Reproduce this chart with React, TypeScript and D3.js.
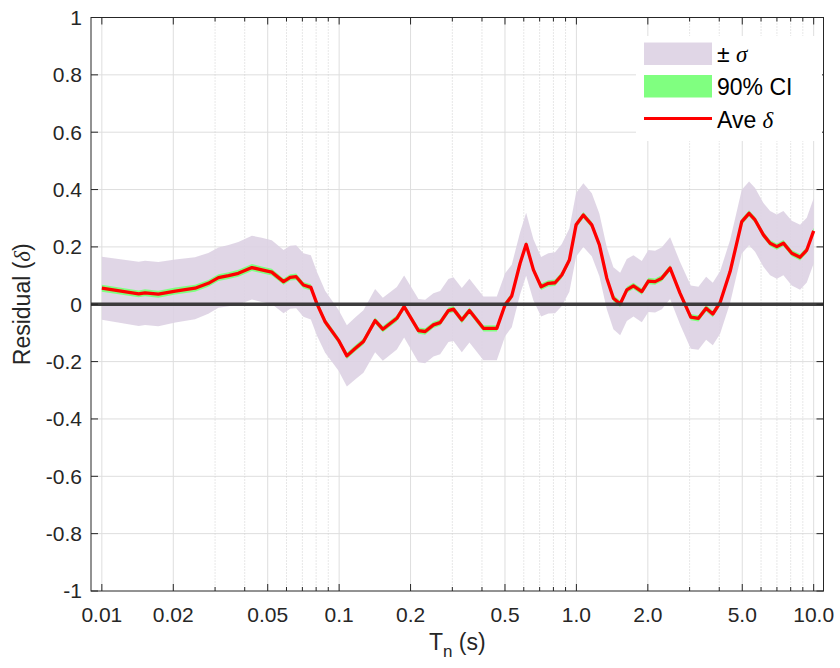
import React from 'react';
import * as d3 from 'd3';

// periods (s) and mean residual
const periods = [
  0.01, 0.0143, 0.0152, 0.0173, 0.0204, 0.0247, 0.0281, 0.031, 0.0342, 0.0376,
  0.0429, 0.0472, 0.052, 0.0583, 0.0622, 0.0659, 0.0707, 0.076, 0.0805, 0.0873,
  0.0993, 0.1078, 0.1168, 0.1266, 0.1418, 0.1528, 0.1751, 0.1879, 0.2159, 0.2304,
  0.2497, 0.2665, 0.2888, 0.3032, 0.3289, 0.3541, 0.4056, 0.4619, 0.5006, 0.534,
  0.579, 0.614, 0.659, 0.71, 0.762, 0.813, 0.868, 0.934, 0.997, 1.07,
  1.161, 1.25, 1.343, 1.432, 1.529, 1.631, 1.739, 1.886, 2.011, 2.146,
  2.291, 2.483, 2.735, 3.034, 3.268, 3.522, 3.757, 4.033, 4.444, 4.666,
  4.977, 5.342, 5.662, 6.14, 6.552, 6.992, 7.454, 8.085, 8.764, 9.352, 10.0,
];

const meanDelta = [
  0.056, 0.036, 0.040, 0.035, 0.046, 0.056, 0.073, 0.093, 0.100, 0.108,
  0.128, 0.120, 0.112, 0.079, 0.094, 0.096, 0.067, 0.059, 0.003, -0.061,
  -0.125, -0.180, -0.154, -0.130, -0.057, -0.087, -0.049, -0.008, -0.092, -0.095,
  -0.072, -0.064, -0.022, -0.017, -0.055, -0.022, -0.084, -0.084, -0.002, 0.029,
  0.143, 0.209, 0.120, 0.061, 0.073, 0.075, 0.102, 0.154, 0.277, 0.311,
  0.277, 0.207, 0.091, 0.021, 0.001, 0.050, 0.064, 0.044, 0.081, 0.079,
  0.091, 0.126, 0.038, -0.045, -0.049, -0.014, -0.034, 0.006, 0.114, 0.189,
  0.288, 0.317, 0.294, 0.242, 0.213, 0.201, 0.213, 0.178, 0.164, 0.189, 0.256,
];

// standard deviation (half width of the purple band)
const sigma = [
  0.110, 0.112, 0.112, 0.112, 0.110, 0.108, 0.106, 0.105, 0.107, 0.109,
  0.111, 0.112, 0.111, 0.110, 0.110, 0.110, 0.111, 0.112, 0.111, 0.108,
  0.106, 0.107, 0.108, 0.109, 0.110, 0.110, 0.109, 0.108, 0.110, 0.111,
  0.110, 0.110, 0.110, 0.111, 0.112, 0.111, 0.111, 0.111, 0.110, 0.109,
  0.108, 0.110, 0.107, 0.104, 0.105, 0.106, 0.108, 0.110, 0.111, 0.111,
  0.110, 0.109, 0.108, 0.108, 0.109, 0.108, 0.107, 0.107, 0.108, 0.108,
  0.108, 0.108, 0.109, 0.110, 0.110, 0.110, 0.109, 0.109, 0.110, 0.110,
  0.111, 0.111, 0.111, 0.111, 0.112, 0.112, 0.112, 0.113, 0.113, 0.113, 0.114,
];

// half width of the 90% confidence interval (green band)
const ciHalf = [
  0.012, 0.012, 0.012, 0.012, 0.012, 0.012, 0.012, 0.012, 0.012, 0.012,
  0.012, 0.012, 0.012, 0.011, 0.011, 0.011, 0.011, 0.011, 0.011, 0.011,
  0.011, 0.011, 0.011, 0.011, 0.011, 0.011, 0.011, 0.011, 0.011, 0.011,
  0.011, 0.011, 0.011, 0.011, 0.011, 0.011, 0.011, 0.011, 0.011, 0.011,
  0.011, 0.011, 0.011, 0.011, 0.011, 0.011, 0.011, 0.011, 0.011, 0.011,
  0.011, 0.011, 0.011, 0.011, 0.011, 0.011, 0.011, 0.011, 0.011, 0.011,
  0.011, 0.011, 0.011, 0.011, 0.011, 0.011, 0.011, 0.011, 0.011, 0.011,
  0.011, 0.011, 0.011, 0.011, 0.011, 0.011, 0.011, 0.011, 0.011, 0.011, 0.011,
];

const xTicks = [0.01, 0.02, 0.05, 0.1, 0.2, 0.5, 1, 2, 5, 10];
const xTickLabels = ['0.01', '0.02', '0.05', '0.1', '0.2', '0.5', '1.0', '2.0', '5.0', '10.0'];
const yTicks = [-1, -0.8, -0.6, -0.4, -0.2, 0, 0.2, 0.4, 0.6, 0.8, 1];
const yTickLabels = ['-1', '-0.8', '-0.6', '-0.4', '-0.2', '0', '0.2', '0.4', '0.6', '0.8', '1'];

const FONT = '"Liberation Sans", Arial, sans-serif';
const AXIS_COLOR = '#262626';

export default function App() {
  const svgWidth = 840, svgHeight = 668;
  const left = 91, right = 823.5, top = 17.5, bottom = 591;

  const x = d3.scaleLog().domain([0.009, 11]).range([left, right]);
  const y = d3.scaleLinear().domain([-1, 1]).range([bottom, top]);

  // minor positions for the dotted grid: 3,4,6,7,8,9 x 10^n
  const minorTicks: number[] = [];
  [0.01, 0.1, 1].forEach(dec => {
    [3, 4, 6, 7, 8, 9].forEach(k => minorTicks.push(+(k * dec).toPrecision(3)));
  });

  const rows = periods.map((p, i) => ({ p, m: meanDelta[i], s: sigma[i], c: ciHalf[i] }));

  const sigmaArea = d3.area<any>()
    .x(d => x(d.p)).y0(d => y(d.m - d.s)).y1(d => y(d.m + d.s));
  const ciArea = d3.area<any>()
    .x(d => x(d.p)).y0(d => y(d.m - d.c)).y1(d => y(d.m + d.c));
  const meanLine = d3.line<any>()
    .x(d => x(d.p)).y(d => y(d.m));

  const legendX = 644, legendY = 42;

  return (
    <svg width={svgWidth} height={svgHeight}
      style={{ position: 'absolute', left: 0, top: 0, background: '#fff' }}>
      <rect x={0} y={0} width={svgWidth} height={svgHeight} fill="#fff" />

      {/* grid */}
      <g>
        {yTicks.slice(1, -1).map(v => (
          <line key={'gy' + v} x1={left} x2={right} y1={y(v)} y2={y(v)} stroke="#dedede" strokeWidth={1} />
        ))}
        {xTicks.map(v => (
          <line key={'gx' + v} x1={x(v)} x2={x(v)} y1={top} y2={bottom} stroke="#dedede" strokeWidth={1} />
        ))}
        {minorTicks.map(v => (
          <line key={'gm' + v} x1={x(v)} x2={x(v)} y1={top} y2={bottom}
            stroke="#cfcfcf" strokeWidth={1} strokeDasharray="1,2" />
        ))}
      </g>

      {/* bands and mean */}
      <path d={sigmaArea(rows) || ''} fill="#dcd0e2" fillOpacity={0.88} />
      <path d={ciArea(rows) || ''} fill="#80ff80" />
      <path d={meanLine(rows) || ''} fill="none" stroke="#ff0000" strokeWidth={3.3} strokeLinejoin="round" />

      {/* zero line */}
      <line x1={left} x2={right} y1={y(0)} y2={y(0)} stroke="#333333" strokeWidth={3.6} strokeOpacity={0.95} />

      {/* frame and ticks */}
      <rect x={left} y={top} width={right - left} height={bottom - top} fill="none" stroke={AXIS_COLOR} strokeWidth={1} />
      {yTicks.map(v => (
        <g key={'ty' + v}>
          <line x1={left} x2={left + 7} y1={y(v)} y2={y(v)} stroke={AXIS_COLOR} />
          <line x1={right} x2={right - 7} y1={y(v)} y2={y(v)} stroke={AXIS_COLOR} />
        </g>
      ))}
      {xTicks.map(v => (
        <g key={'tx' + v}>
          <line x1={x(v)} x2={x(v)} y1={bottom} y2={bottom - 7} stroke={AXIS_COLOR} />
          <line x1={x(v)} x2={x(v)} y1={top} y2={top + 7} stroke={AXIS_COLOR} />
        </g>
      ))}
      {minorTicks.map(v => (
        <g key={'tm' + v}>
          <line x1={x(v)} x2={x(v)} y1={bottom} y2={bottom - 4} stroke={AXIS_COLOR} />
          <line x1={x(v)} x2={x(v)} y1={top} y2={top + 4} stroke={AXIS_COLOR} />
        </g>
      ))}

      {/* tick labels */}
      <g fontFamily={FONT} fontSize={21} fill={AXIS_COLOR}>
        {yTicks.map((v, i) => (
          <text key={'ly' + v} x={left - 9} y={y(v)} dy="0.35em" textAnchor="end">{yTickLabels[i]}</text>
        ))}
        {xTicks.map((v, i) => (
          <text key={'lx' + v} x={x(v)} y={622} textAnchor="middle">{xTickLabels[i]}</text>
        ))}
      </g>

      {/* axis labels */}
      <text x={(left + right) / 2} y={650} textAnchor="middle" fontFamily={FONT} fontSize={23} fill={AXIS_COLOR}>
        T<tspan dy={7} fontSize={17}>n</tspan><tspan dy={-7}> (s)</tspan>
      </text>
      <text transform={`translate(30, ${(top + bottom) / 2}) rotate(-90)`} textAnchor="middle"
        fontFamily={FONT} fontSize={23} fill={AXIS_COLOR}>
        Residual (<tspan fontFamily='"Liberation Serif", serif' fontStyle="italic">δ</tspan>)
      </text>

      {/* legend */}
      <rect x={636} y={36} width={186} height={105} fill="#fff" />
      <rect x={legendX} y={legendY + 0.5} width={68} height={22.5} fill="#dcd0e2" fillOpacity={0.88} />
      <rect x={legendX} y={legendY + 33} width={68} height={22.5} fill="#80ff80" />
      <line x1={legendX} x2={legendX + 68} y1={legendY + 76.5} y2={legendY + 76.5} stroke="#ff0000" strokeWidth={3} />
      <g fontFamily={FONT} fontSize={23} fill="#000">
        <text x={717} y={legendY + 12} dy="0.35em">± <tspan fontFamily='"Liberation Serif", serif' fontStyle="italic">σ</tspan></text>
        <text x={717} y={legendY + 44.5} dy="0.35em">90% CI</text>
        <text x={717} y={legendY + 78} dy="0.35em">Ave <tspan fontFamily='"Liberation Serif", serif' fontStyle="italic">δ</tspan></text>
      </g>
    </svg>
  );
}
